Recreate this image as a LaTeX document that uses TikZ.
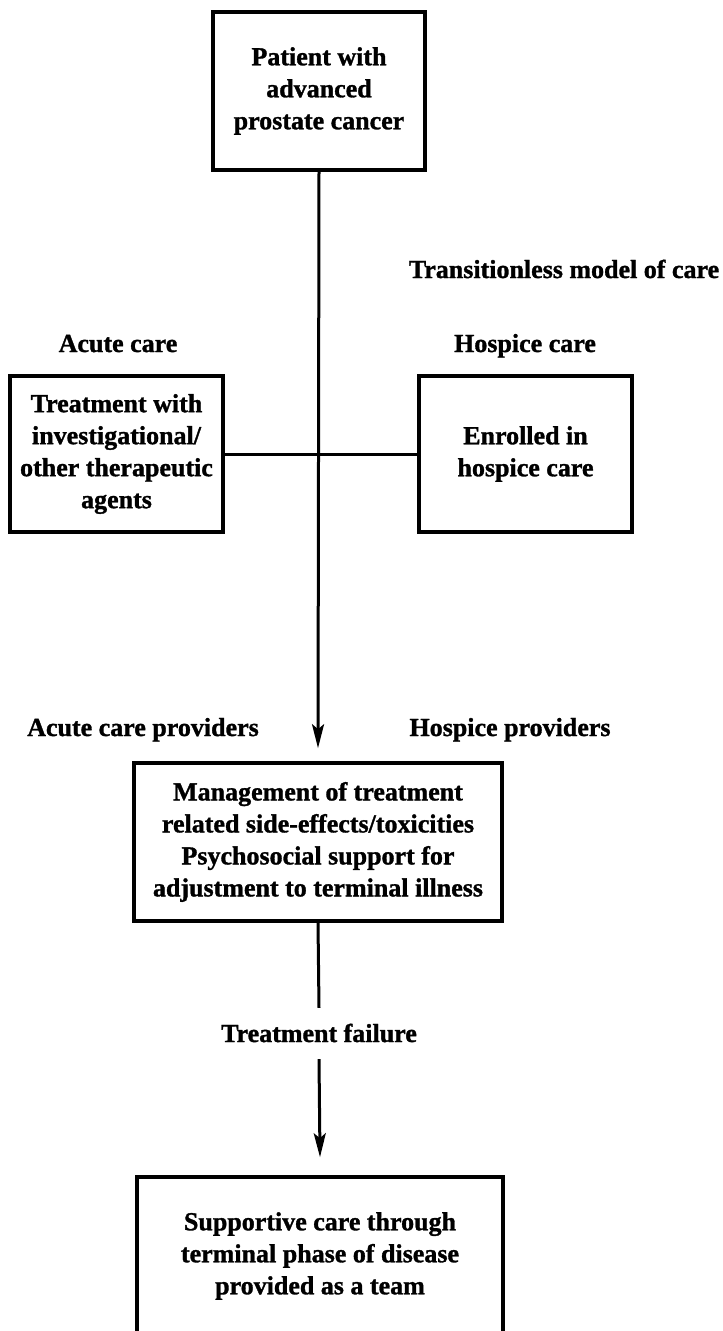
\documentclass[tikz,border=0pt]{standalone}
\usepackage{fontspec}
\setmainfont{Liberation Serif}[BoldFeatures={FakeBold=1.2}]
\usetikzlibrary{arrows.meta}
\begin{document}
\begin{tikzpicture}[x=1pt,y=-1pt,
  box/.style={draw, line width=3.6pt, inner sep=0pt, align=center, font=\bfseries\fontsize{26}{32}\selectfont},
  lbl/.style={inner sep=0pt, text height=18pt, text depth=6pt, font=\bfseries\fontsize{26}{32}\selectfont},
  conn/.style={line width=3pt},
  arr/.style={conn, -{Stealth[length=24pt,width=12pt,inset=5pt]}}]
\useasboundingbox (0,0) rectangle (723,1331);
\clip (0,0) rectangle (723,1331);

\node[box, minimum width=212pt, minimum height=158pt] (top) at (319,91) {Patient with\\advanced\\prostate cancer};
\node[lbl] (tm) at (564,272) {Transitionless model of care};
\node[lbl] (ac) at (118,346) {Acute care};
\node[lbl] (hc) at (525,346) {Hospice care};
\node[box, minimum width=213pt, minimum height=156pt] (left) at (116.5,454) {Treatment with\\investigational/\\other therapeutic\\agents};
\node[box, minimum width=213pt, minimum height=156pt] (right) at (525.5,454) {Enrolled in\\hospice care};
\node[lbl] (acp) at (143,730) {Acute care providers};
\node[lbl] (hp) at (510,730) {Hospice providers};
\node[box, minimum width=368pt, minimum height=158pt] (mid) at (318,842) {Management of treatment\\related side-effects/toxicities\\Psychosocial support for\\adjustment to terminal illness};
\node[lbl] (fail) at (319,1036) {Treatment failure};
\node[box, minimum width=366pt, minimum height=158pt] (bot) at (320,1256) {Supportive care through\\terminal phase of disease\\provided as a team};

\draw[arr] (top.south) -- ([yshift=13pt]mid.north);
\draw[conn] (left.east) -- (right.west);
\draw[conn] (mid.south) -- ([yshift=16pt]fail.north);
\draw[arr] ([yshift=-11pt]fail.south) -- ([yshift=18pt]bot.north);
\end{tikzpicture}
\end{document}
